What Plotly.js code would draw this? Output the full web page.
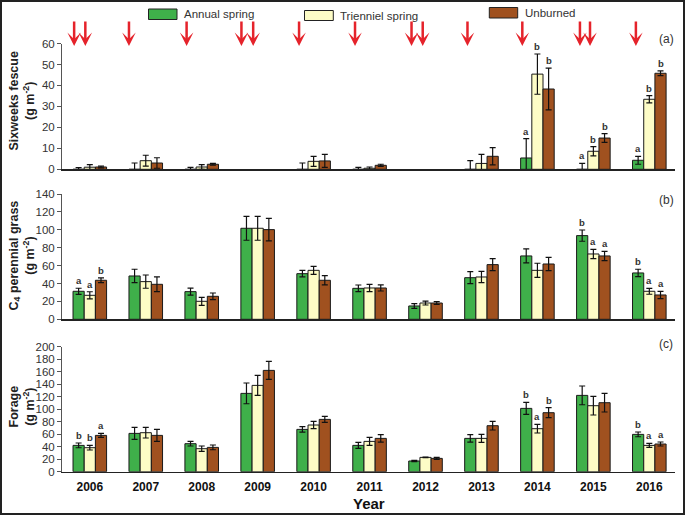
<!DOCTYPE html>
<html>
<head>
<meta charset="utf-8">
<script src="https://cdn.plot.ly/plotly-3.0.1.min.js"></script>
<style>
  html, body { margin: 0; padding: 0; background: #fff; }
  #wrap { position: relative; width: 685px; height: 515px; }
  #chart { width: 685px; height: 515px; }
  #frame { position: absolute; left: 0; top: 0; width: 685px; height: 515px; box-sizing: border-box; border: 2px solid #222; pointer-events: none; }
</style>
</head>
<body>
<div id="wrap"><div id="chart"></div><div id="frame"></div></div>
<script>
// ---------------- DATA ----------------
const years = [2006, 2007, 2008, 2009, 2010, 2011, 2012, 2013, 2014, 2015, 2016];
const seriesNames = ['Annual spring', 'Trienniel spring', 'Unburned'];

// (a) Sixweeks fescue (g m-2); null = nothing shown that year
const fescueAnnual      = [0, 0, 0, null, 0, 0, null, 0, 5.4, 0, 4.3];
const fescueAnnualErr   = [0.8, 3.0, 0.9, null, 3.0, 0.9, null, 4.1, 9.2, 2.8, 1.9];
const fescueTriennial   = [1.0, 4.1, 1.1, null, 3.8, 0.5, null, 2.8, 45.4, 8.6, 33.4];
const fescueTriennialErr= [1.2, 2.6, 1.1, null, 2.4, 0.6, null, 4.3, 9.6, 2.2, 1.7];
const fescueUnburned    = [1.1, 3.0, 2.4, null, 4.0, 1.9, null, 6.2, 38.3, 14.9, 45.8];
const fescueUnburnedErr = [0.4, 2.5, 0.4, null, 3.1, 0.5, null, 4.1, 10.0, 2.1, 1.1];
const fescueSigAnnual    = ['', '', '', '', '', '', '', '', 'a', 'a', 'a'];
const fescueSigTriennial = ['', '', '', '', '', '', '', '', 'b', 'b', 'b'];
const fescueSigUnburned  = ['', '', '', '', '', '', '', '', 'b', 'b', 'b'];

// (b) C4 perennial grass (g m-2)
const c4Annual       = [31.3, 48.4, 30.9, 101.7, 51.0, 34.6, 14.9, 46.5, 70.8, 93.5, 51.8];
const c4AnnualErr    = [3.4, 7.5, 4.0, 13.4, 3.7, 3.7, 2.6, 6.7, 7.8, 6.3, 4.1];
const c4Triennial    = [26.8, 42.1, 20.1, 101.7, 54.7, 35.0, 18.2, 47.3, 54.7, 73.0, 31.3];
const c4TriennialErr = [4.0, 7.4, 4.5, 13.4, 4.5, 4.0, 2.2, 6.3, 7.9, 5.2, 3.3];
const c4Unburned     = [43.6, 39.1, 25.7, 100.2, 43.6, 35.0, 18.2, 61.1, 61.8, 70.8, 27.2];
const c4UnburnedErr  = [2.6, 8.2, 3.7, 12.6, 5.2, 3.4, 1.5, 6.7, 7.5, 5.2, 4.1];
const c4SigAnnual    = ['a', '', '', '', '', '', '', '', '', 'b', 'b'];
const c4SigTriennial = ['a', '', '', '', '', '', '', '', '', 'a', 'a'];
const c4SigUnburned  = ['b', '', '', '', '', '', '', '', '', 'a', 'a'];

// (c) Forage (g m-2)
const forageAnnual       = [42.1, 61.3, 44.8, 125.3, 67.7, 42.1, 17.1, 53.3, 101.3, 122.1, 59.7];
const forageAnnualErr    = [3.8, 9.6, 3.7, 16.6, 4.3, 4.8, 1.0, 5.9, 9.6, 15.0, 3.8];
const forageTriennial    = [38.4, 62.4, 36.8, 138.1, 74.7, 48.5, 22.9, 53.3, 68.8, 105.6, 42.1];
const forageTriennialErr = [3.7, 8.5, 4.3, 16.0, 5.8, 6.4, 0.6, 6.4, 6.9, 14.9, 3.2];
const forageUnburned     = [58.1, 58.1, 38.9, 162.1, 83.7, 53.3, 21.3, 73.6, 94.4, 110.4, 44.3];
const forageUnburnedErr  = [3.2, 9.6, 3.8, 14.4, 4.8, 5.9, 1.6, 6.9, 8.0, 14.9, 3.2];
const forageSigAnnual    = ['b', '', '', '', '', '', '', '', 'b', '', 'b'];
const forageSigTriennial = ['b', '', '', '', '', '', '', '', 'a', '', 'a'];
const forageSigUnburned  = ['a', '', '', '', '', '', '', '', 'b', '', 'a'];

// burn events (red arrows), as fractional years
const burnDates = [2005.72, 2005.92, 2006.70, 2007.73, 2008.71, 2008.92, 2009.74, 2010.74,
                   2011.75, 2011.95, 2012.75, 2013.73, 2014.76, 2014.94, 2015.76];

const panelLabels = ['(a)', '(b)', '(c)'];
const yTitles = ['<b>Sixweeks fescue<br>(g m<sup>-2</sup>)</b>',
                 '<b>C<sub>4</sub> perennial grass<br>(g m<sup>-2</sup>)</b>',
                 '<b>Forage<br>(g m<sup>-2</sup>)</b>'];
const yRanges = [[0, 60], [0, 140], [0, 200]];
const yDticks = [10, 20, 20];

// ---------------- STYLE / LAYOUT ----------------
const colors = ['#3fb04a', '#fdfcc6', '#a0511f'];
const W = 685, H = 515;
const M = {l: 62, r: 10, t: 43, b: 43};
const pw = W - M.l - M.r, ph = H - M.t - M.b;
const fx = px => (px - M.l) / pw;
const fy = py => 1 - (py - M.t) / ph;
const domains = [[fy(169.3), fy(43.5)], [fy(319.3), fy(194)], [Math.max(0, fy(471.7)), fy(346.7)]];
const bargap = 0.4;
const barW = (1 - bargap) / 3;
const xRange = [2005.503, 2016.459];
const font = 'Liberation Sans, Arial, sans-serif';

const panels = [
  {vals: [fescueAnnual, fescueTriennial, fescueUnburned], errs: [fescueAnnualErr, fescueTriennialErr, fescueUnburnedErr],
   sig: [fescueSigAnnual, fescueSigTriennial, fescueSigUnburned]},
  {vals: [c4Annual, c4Triennial, c4Unburned], errs: [c4AnnualErr, c4TriennialErr, c4UnburnedErr],
   sig: [c4SigAnnual, c4SigTriennial, c4SigUnburned]},
  {vals: [forageAnnual, forageTriennial, forageUnburned], errs: [forageAnnualErr, forageTriennialErr, forageUnburnedErr],
   sig: [forageSigAnnual, forageSigTriennial, forageSigUnburned]}
];

const traces = [];
const annotations = [];
const shapes = [];
const layout = {
  width: W, height: H,
  margin: M,
  paper_bgcolor: '#fff', plot_bgcolor: 'rgba(0,0,0,0)',
  font: {family: font, color: '#222'},
  barmode: 'group', bargap: bargap, bargroupgap: 0,
  showlegend: false,
  annotations: annotations, shapes: shapes
};

panels.forEach((p, pi) => {
  const sfx = pi === 0 ? '' : String(pi + 1);
  const xa = 'x' + sfx, ya = 'y' + sfx;
  for (let s = 0; s < 3; s++) {
    traces.push({
      type: 'bar', name: seriesNames[s], x: years, y: p.vals[s],
      xaxis: xa, yaxis: ya,
      marker: {color: colors[s], line: {color: '#1a1a1a', width: 1}},
      error_y: {type: 'data', array: p.errs[s], visible: true, color: '#111', thickness: 1.2, width: 3},
      hoverinfo: 'skip'
    });
    years.forEach((yr, i) => {
      const t = p.sig[s][i];
      if (!t) return;
      annotations.push({
        xref: xa, yref: ya, x: yr + (s - 1) * barW, y: p.vals[s][i] + p.errs[s][i],
        text: '<b>' + t + '</b>', showarrow: false, yanchor: 'bottom', xanchor: 'center', yshift: 0,
        font: {family: font, size: 9.5, color: '#333'}
      });
    });
  }
  layout['xaxis' + sfx] = {
    anchor: ya, domain: [0, 1], range: xRange, type: 'linear',
    showline: true, linecolor: '#222', linewidth: 1.2, showgrid: false, zeroline: false,
    ticks: '', tickvals: years, ticktext: years.map(String),
    showticklabels: pi === 2, ticklabelstandoff: 4,
    tickfont: {family: font, size: 12, color: '#111', weight: 'bold'}
  };
  layout['yaxis' + sfx] = {
    anchor: xa, domain: domains[pi], range: yRanges[pi], dtick: yDticks[pi], tick0: 0,
    showline: true, linecolor: '#555', linewidth: 1, showgrid: false, zeroline: false,
    ticks: 'outside', ticklen: 4, tickcolor: '#555', tickwidth: 1,
    tickfont: {family: font, size: 11.5, color: '#333'}
  };
  // y axis title (two lines, rotated)
  const mid = [101, 256, 407][pi];
  annotations.push({
    xref: 'paper', yref: 'paper', x: fx(21.5), y: fy(mid), text: yTitles[pi], showarrow: false,
    textangle: -90, xanchor: 'center', yanchor: 'middle',
    font: {family: font, size: 12.5, color: '#222'}
  });
  // panel label
  annotations.push({
    xref: 'paper', yref: 'paper', x: fx(666), y: fy([39, 200, 344][pi]), text: panelLabels[pi], showarrow: false,
    xanchor: 'center', yanchor: 'middle', font: {family: font, size: 12, color: '#333'}
  });
});

// burn arrows
burnDates.forEach(d => {
  annotations.push({
    xref: 'x', yref: 'paper', x: d, y: fy(46), text: '', showarrow: true,
    ax: 0, ay: -26, arrowcolor: '#e5232b', arrowwidth: 2.5, arrowhead: 3, arrowsize: 0.9, standoff: 0
  });
});

// Year title
annotations.push({
  xref: 'paper', yref: 'paper', x: fx(369), y: fy(503), text: '<b>Year</b>', showarrow: false,
  xanchor: 'center', yanchor: 'middle', font: {family: font, size: 15, color: '#111'}
});

// custom legend (boxes + labels)
const legendBoxes = [[148.5, 9, 177, 19.5], [304.5, 10.5, 333.3, 20.5], [489.3, 7.5, 517.7, 18]];
legendBoxes.forEach((b, s) => {
  shapes.push({type: 'rect', xref: 'paper', yref: 'paper', x0: fx(b[0]), x1: fx(b[2]), y0: fy(b[3]), y1: fy(b[1]),
               fillcolor: colors[s], line: {color: '#222', width: 1}});
  annotations.push({xref: 'paper', yref: 'paper', x: fx(b[2] + 5), y: fy((b[1] + b[3]) / 2), text: seriesNames[s],
                    showarrow: false, xanchor: 'left', yanchor: 'middle', font: {family: font, size: 11.5, color: '#333'}});
});

Plotly.newPlot('chart', traces, layout, {staticPlot: true, displayModeBar: false});
</script>
</body>
</html>
